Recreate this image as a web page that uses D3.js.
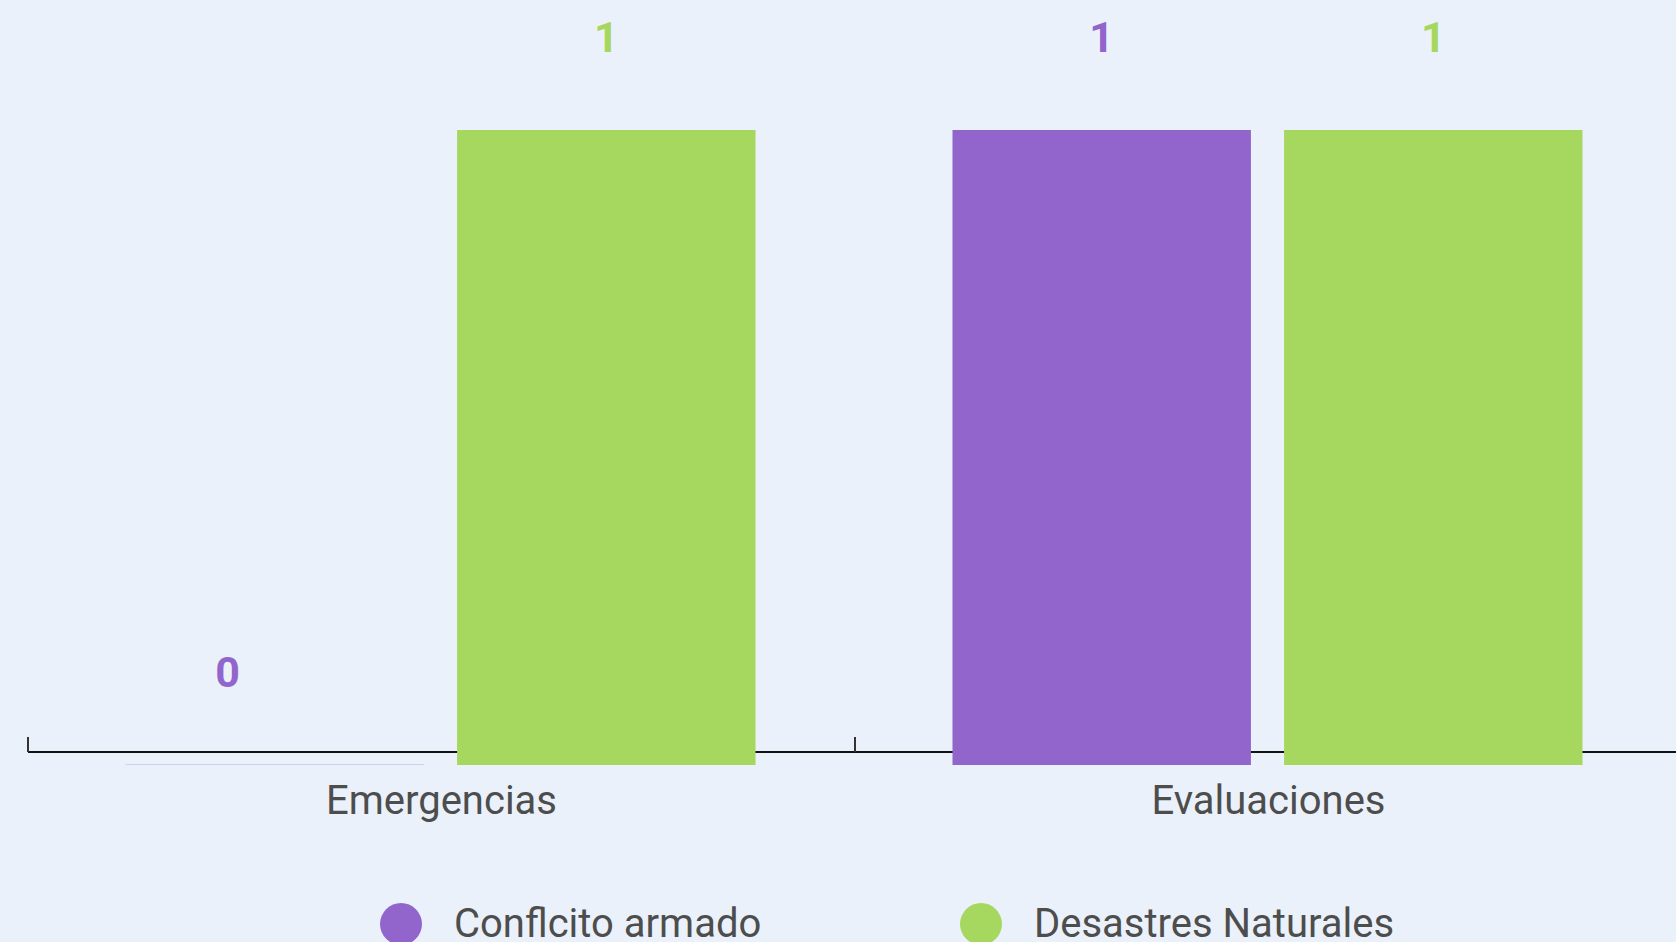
<!DOCTYPE html>
<html>
<head>
<meta charset="utf-8">
<script src="https://cdn.jsdelivr.net/npm/d3@7"></script>
<style>
  html, body { margin: 0; padding: 0; background: #EAF1FA; }
  svg { display: block; font-family: Roboto, "Noto Sans", sans-serif; }
</style>
</head>
<body>
<svg id="chart" width="1676" height="942"></svg>
<script>
const categories = ["Emergencias", "Evaluaciones"];
const seriesNames = ["Conflcito armado", "Desastres Naturales"];
const conflictoValues = [0, 1];
const desastresValues = [1, 1];
const seriesColors = ["#9165CC", "#A6D75F"];

const seriesValues = [conflictoValues, desastresValues];
const svg = d3.select("#chart");
const W = 1676, H = 942;

svg.append("rect").attr("width", W).attr("height", H).attr("fill", "#EAF1FA");

const x0 = d3.scaleBand().domain(categories).range([28, 1682]).paddingInner(0).paddingOuter(0);
const x1 = d3.scaleBand().domain(seriesNames).range([97.5, 727.5]).paddingInner(0.1).paddingOuter(0);
const y = d3.scaleLinear().domain([0, 1]).range([765, 130]);
const axisY = 752;

// axis
const axis = d3.axisBottom(x0).tickSizeInner(-15).tickSizeOuter(0).tickFormat("");
const ax = svg.append("g").attr("transform", `translate(0,${axisY})`).call(axis);
ax.select(".domain").attr("stroke", "#111").attr("stroke-width", 2)
  .attr("d", `M${x0.range()[0]},0H${W}`);
ax.selectAll(".tick").attr("transform", d => `translate(${x0(d)},0)`);
ax.selectAll(".tick line").attr("stroke", "#333").attr("stroke-width", 2);

// bars
const groups = svg.append("g").selectAll("g").data(categories).join("g")
  .attr("transform", d => `translate(${x0(d)},0)`);

groups.each(function(cat, ci) {
  const g = d3.select(this);
  const data = seriesNames.map((s, si) => ({ s, si, v: seriesValues[si][ci] }));
  g.selectAll("rect").data(data).join("rect")
    .attr("x", d => x1(d.s))
    .attr("width", x1.bandwidth())
    .attr("y", d => d.v === 0 ? y(0) - 1 : y(d.v))
    .attr("height", d => d.v === 0 ? 1 : y(0) - y(d.v))
    .attr("fill", d => d.v === 0 ? "#D6CCF2" : seriesColors[d.si]);
  g.selectAll("text").data(data).join("text")
    .attr("x", d => x1(d.s) + x1.bandwidth() / 2 + (d.v === 0 ? -47 : 0))
    .attr("y", d => y(d.v) - 78)
    .attr("text-anchor", "middle")
    .attr("font-size", 43)
    .attr("font-weight", "bold")
    .attr("fill", d => seriesColors[d.si])
    .text(d => d.v);
});

// category labels
svg.append("g").selectAll("text").data(categories).join("text")
  .attr("x", d => x0(d) + x0.bandwidth() / 2)
  .attr("y", 814)
  .attr("text-anchor", "middle")
  .attr("font-size", 40)
  .attr("fill", "#4D4D4D")
  .text(d => d);

// legend
const legendX = [401, 981];
const lg = svg.append("g").selectAll("g").data(seriesNames).join("g")
  .attr("transform", (d, i) => `translate(${legendX[i]},924)`);
lg.append("circle").attr("r", 21).attr("fill", (d, i) => seriesColors[i]);
lg.append("text").attr("x", 53).attr("y", 13)
  .attr("font-size", 40).attr("fill", "#4D4D4D").text(d => d);
</script>
</body>
</html>
